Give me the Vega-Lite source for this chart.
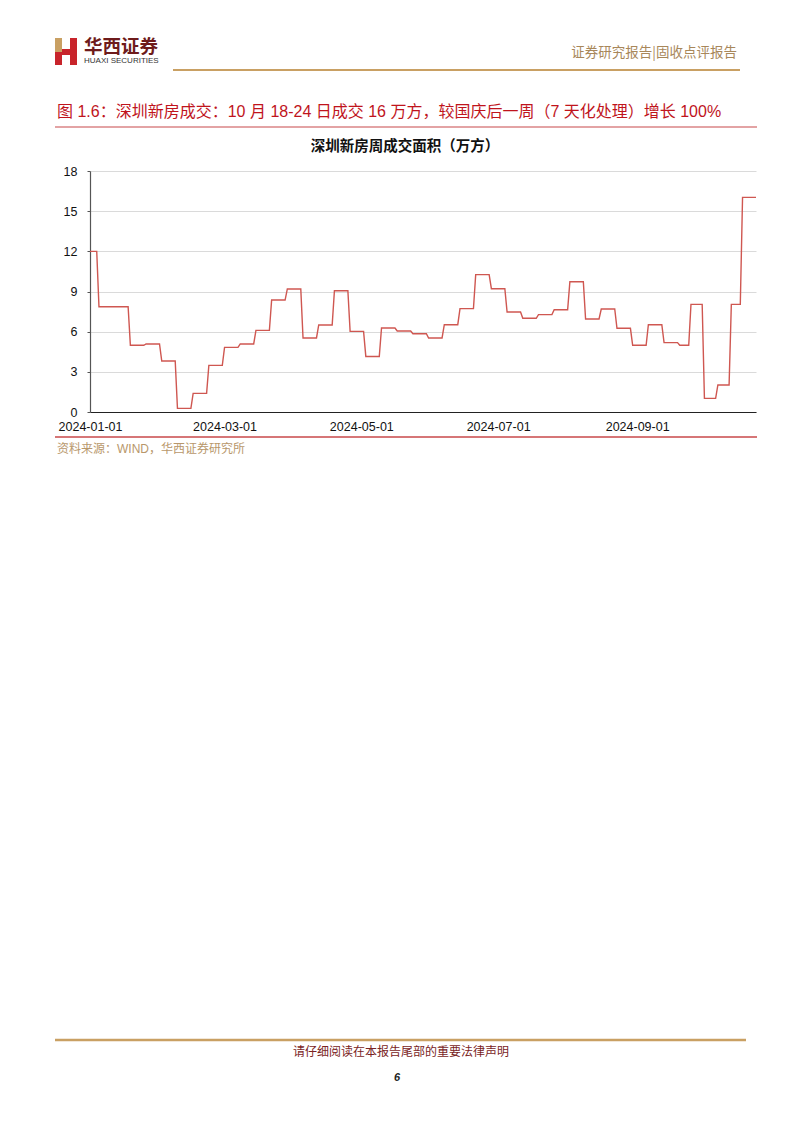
{
  "$schema": "https://vega.github.io/schema/vega-lite/v6.json",
  "width": 666,
  "height": 241,
  "autosize": {"type": "none"},
  "padding": {"left": 90, "top": 171, "right": 46, "bottom": 721},
  "background": "white",
  "config": {"view": {"stroke": null}, "font": "Liberation Sans, Noto Sans CJK SC"},
  "layer": [
    {
      "data": {"values": [
        {"date": "2024-01-01", "value": 12.0},
        {"date": "2024-01-04", "value": 12.0},
        {"date": "2024-01-05", "value": 7.86},
        {"date": "2024-01-18", "value": 7.86},
        {"date": "2024-01-19", "value": 4.98},
        {"date": "2024-01-25", "value": 4.98},
        {"date": "2024-01-26", "value": 5.08},
        {"date": "2024-02-01", "value": 5.08},
        {"date": "2024-02-02", "value": 3.81},
        {"date": "2024-02-08", "value": 3.81},
        {"date": "2024-02-09", "value": 0.27},
        {"date": "2024-02-15", "value": 0.27},
        {"date": "2024-02-16", "value": 1.39},
        {"date": "2024-02-22", "value": 1.39},
        {"date": "2024-02-23", "value": 3.48},
        {"date": "2024-02-29", "value": 3.48},
        {"date": "2024-03-01", "value": 4.83},
        {"date": "2024-03-07", "value": 4.83},
        {"date": "2024-03-08", "value": 5.08},
        {"date": "2024-03-14", "value": 5.08},
        {"date": "2024-03-15", "value": 6.1},
        {"date": "2024-03-21", "value": 6.1},
        {"date": "2024-03-22", "value": 8.36},
        {"date": "2024-03-28", "value": 8.36},
        {"date": "2024-03-29", "value": 9.19},
        {"date": "2024-04-04", "value": 9.19},
        {"date": "2024-04-05", "value": 5.53},
        {"date": "2024-04-11", "value": 5.53},
        {"date": "2024-04-12", "value": 6.5},
        {"date": "2024-04-18", "value": 6.5},
        {"date": "2024-04-19", "value": 9.06},
        {"date": "2024-04-25", "value": 9.06},
        {"date": "2024-04-26", "value": 6.02},
        {"date": "2024-05-02", "value": 6.02},
        {"date": "2024-05-03", "value": 4.15},
        {"date": "2024-05-09", "value": 4.15},
        {"date": "2024-05-10", "value": 6.27},
        {"date": "2024-05-16", "value": 6.27},
        {"date": "2024-05-17", "value": 6.05},
        {"date": "2024-05-23", "value": 6.05},
        {"date": "2024-05-24", "value": 5.85},
        {"date": "2024-05-30", "value": 5.85},
        {"date": "2024-05-31", "value": 5.53},
        {"date": "2024-06-06", "value": 5.53},
        {"date": "2024-06-07", "value": 6.52},
        {"date": "2024-06-13", "value": 6.52},
        {"date": "2024-06-14", "value": 7.72},
        {"date": "2024-06-20", "value": 7.72},
        {"date": "2024-06-21", "value": 10.26},
        {"date": "2024-06-27", "value": 10.26},
        {"date": "2024-06-28", "value": 9.21},
        {"date": "2024-07-04", "value": 9.21},
        {"date": "2024-07-05", "value": 7.47},
        {"date": "2024-07-11", "value": 7.47},
        {"date": "2024-07-12", "value": 7.0},
        {"date": "2024-07-18", "value": 7.0},
        {"date": "2024-07-19", "value": 7.27},
        {"date": "2024-07-25", "value": 7.27},
        {"date": "2024-07-26", "value": 7.64},
        {"date": "2024-08-01", "value": 7.64},
        {"date": "2024-08-02", "value": 9.73},
        {"date": "2024-08-08", "value": 9.73},
        {"date": "2024-08-09", "value": 6.95},
        {"date": "2024-08-15", "value": 6.95},
        {"date": "2024-08-16", "value": 7.69},
        {"date": "2024-08-22", "value": 7.69},
        {"date": "2024-08-23", "value": 6.25},
        {"date": "2024-08-29", "value": 6.25},
        {"date": "2024-08-30", "value": 4.98},
        {"date": "2024-09-05", "value": 4.98},
        {"date": "2024-09-06", "value": 6.52},
        {"date": "2024-09-12", "value": 6.52},
        {"date": "2024-09-13", "value": 5.18},
        {"date": "2024-09-19", "value": 5.18},
        {"date": "2024-09-20", "value": 4.98},
        {"date": "2024-09-24", "value": 4.98},
        {"date": "2024-09-25", "value": 8.04},
        {"date": "2024-09-30", "value": 8.04},
        {"date": "2024-10-01", "value": 1.02},
        {"date": "2024-10-06", "value": 1.02},
        {"date": "2024-10-07", "value": 2.02},
        {"date": "2024-10-12", "value": 2.02},
        {"date": "2024-10-13", "value": 8.04},
        {"date": "2024-10-17", "value": 8.04},
        {"date": "2024-10-18", "value": 16.03},
        {"date": "2024-10-24", "value": 16.03}
      ]},
      "mark": {"type": "line", "color": "#CF5751", "strokeWidth": 1.4, "clip": false},
      "encoding": {
        "x": {
          "field": "date", "type": "temporal",
          "scale": {"type": "utc", "domain": [{"year": 2024, "month": 1, "date": 1, "utc": true}, {"year": 2024, "month": 10, "date": 24, "utc": true}], "nice": false},
          "axis": {
            "title": null, "format": "%Y-%m-%d", "grid": false, "ticks": false,
            "values": [
              {"year": 2024, "month": 1, "date": 1, "utc": true},
              {"year": 2024, "month": 3, "date": 1, "utc": true},
              {"year": 2024, "month": 5, "date": 1, "utc": true},
              {"year": 2024, "month": 7, "date": 1, "utc": true},
              {"year": 2024, "month": 9, "date": 1, "utc": true}
            ],
            "domainColor": "#222222", "domainWidth": 1.2,
            "labelFont": "Liberation Sans", "labelFontSize": 12.5, "labelColor": "#111111",
            "labelPadding": 8, "labelFlush": false, "labelOverlap": false
          }
        },
        "y": {
          "field": "value", "type": "quantitative",
          "scale": {"domain": [0, 18], "nice": false},
          "axis": {
            "title": null, "values": [0, 3, 6, 9, 12, 15, 18],
            "gridColor": "#DADADA", "gridWidth": 1,
            "domainColor": "#555555", "domainWidth": 1.2,
            "tickColor": "#555555", "tickSize": 3,
            "labelFont": "Liberation Sans", "labelFontSize": 12.5, "labelColor": "#111111",
            "labelPadding": 10
          }
        }
      }
    },
    {
      "data": {"values": [{}]},
      "layer": [
        {"mark": {"type": "rect", "color": "#C9A063"}, "encoding": {"x": {"value": -35}, "x2": {"value": -28}, "y": {"value": -133}, "y2": {"value": -119}}},
        {"mark": {"type": "rect", "color": "#C8242B"}, "encoding": {"x": {"value": -35}, "x2": {"value": -28}, "y": {"value": -119}, "y2": {"value": -106}}},
        {"mark": {"type": "rect", "color": "#C8242B"}, "encoding": {"x": {"value": -20}, "x2": {"value": -13}, "y": {"value": -133}, "y2": {"value": -106}}},
        {"mark": {"type": "rect", "color": "#C8242B"}, "encoding": {"x": {"value": -28}, "x2": {"value": -20}, "y": {"value": -122}, "y2": {"value": -116}}},
        {"mark": {"type": "text", "text": "华西证券", "align": "left", "baseline": "middle", "font": "Noto Sans CJK SC", "fontSize": 18.5, "fontWeight": "bold", "color": "#6E1B1B"}, "encoding": {"x": {"value": -6}, "y": {"value": -124}}},
        {"mark": {"type": "text", "text": "HUAXI SECURITIES", "align": "left", "baseline": "middle", "font": "Liberation Sans Narrow, Liberation Sans", "fontSize": 8, "color": "#333333"}, "encoding": {"x": {"value": -6}, "y": {"value": -110}}},
        {"mark": {"type": "text", "text": "证券研究报告|固收点评报告", "align": "right", "baseline": "middle", "font": "Noto Sans CJK SC", "fontSize": 13.5, "color": "#A8875A"}, "encoding": {"x": {"value": 647}, "y": {"value": -118}}},
        {"mark": {"type": "rule", "color": "#C9A063", "strokeWidth": 2}, "encoding": {"x": {"value": 83}, "x2": {"value": 650}, "y": {"value": -101}}},
        {"mark": {"type": "text", "text": "图 1.6：深圳新房成交：10 月 18-24 日成交 16 万方，较国庆后一周（7 天化处理）增长 100%", "align": "left", "baseline": "middle", "font": "Liberation Sans, Noto Sans CJK SC", "fontSize": 16, "color": "#C0141C"}, "encoding": {"x": {"value": -33}, "y": {"value": -59}}},
        {"mark": {"type": "rule", "color": "#C8484A", "strokeWidth": 1.2}, "encoding": {"x": {"value": -35}, "x2": {"value": 667}, "y": {"value": -44}}},
        {"mark": {"type": "text", "text": "深圳新房周成交面积（万方）", "align": "center", "baseline": "middle", "font": "Noto Sans CJK SC", "fontSize": 14.5, "fontWeight": "bold", "color": "#111111"}, "encoding": {"x": {"value": 315}, "y": {"value": -24}}},
        {"mark": {"type": "rule", "color": "#C8484A", "strokeWidth": 1.5}, "encoding": {"x": {"value": -35}, "x2": {"value": 667}, "y": {"value": 266}}},
        {"mark": {"type": "text", "text": "资料来源：WIND，华西证券研究所", "align": "left", "baseline": "middle", "font": "Liberation Sans, Noto Sans CJK SC", "fontSize": 12, "color": "#B8976B"}, "encoding": {"x": {"value": -33}, "y": {"value": 278}}},
        {"mark": {"type": "rule", "color": "#C9A063", "strokeWidth": 2.5}, "encoding": {"x": {"value": -35}, "x2": {"value": 656}, "y": {"value": 869}}},
        {"mark": {"type": "text", "text": "请仔细阅读在本报告尾部的重要法律声明", "align": "center", "baseline": "middle", "font": "Noto Sans CJK SC", "fontSize": 12, "color": "#7A2424"}, "encoding": {"x": {"value": 311}, "y": {"value": 881}}},
        {"mark": {"type": "text", "text": "6", "align": "center", "baseline": "middle", "font": "Liberation Sans", "fontSize": 11, "fontWeight": "bold", "fontStyle": "italic", "color": "#222222"}, "encoding": {"x": {"value": 307}, "y": {"value": 907}}}
      ]
    }
  ]
}
